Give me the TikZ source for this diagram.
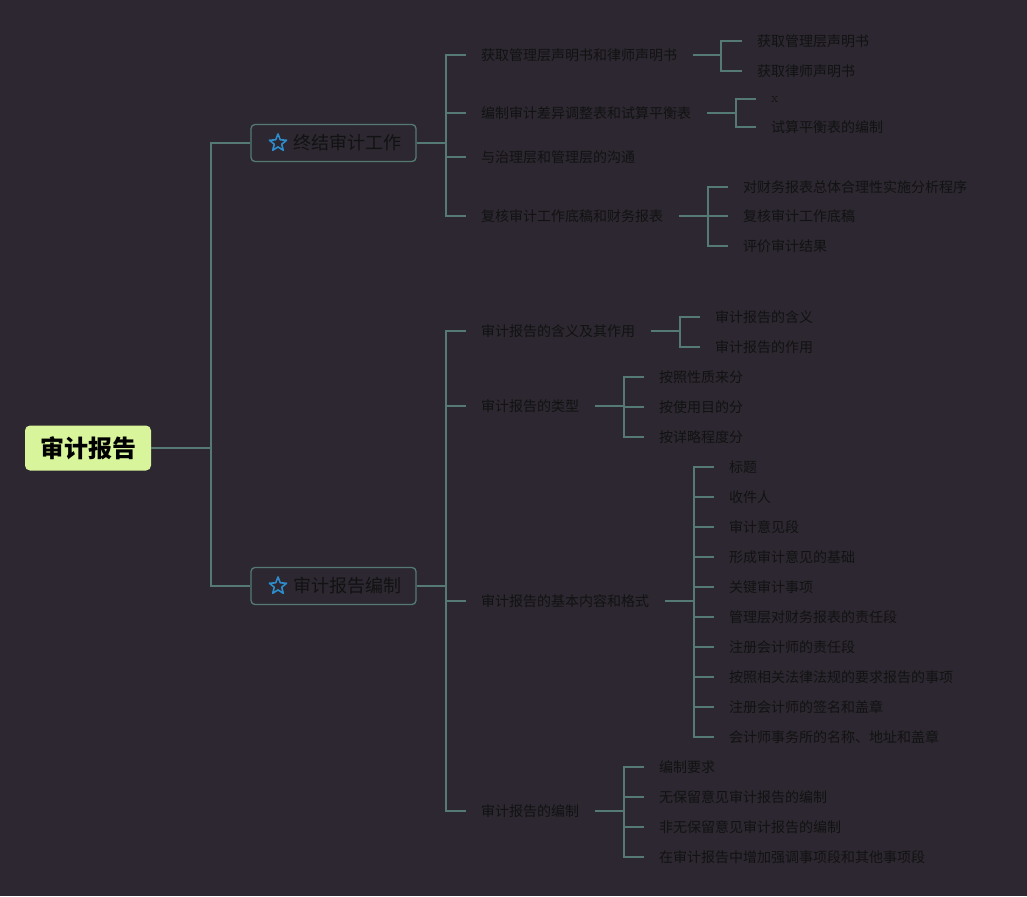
\documentclass[tikz,border=0pt]{standalone}
\usepackage{fontspec}
\newfontfamily\cjk{Noto Sans CJK SC}
\usetikzlibrary{shapes.geometric}
\definecolor{bgdark}{HTML}{2C2730}
\definecolor{linkcol}{HTML}{557A76}
\definecolor{rootgreen}{HTML}{D8F59B}
\definecolor{starblue}{HTML}{2D8CCB}
\definecolor{txt}{HTML}{121212}

\begin{document}
\begin{tikzpicture}[
  x=1pt, y=-1pt,
  link/.style={draw=linkcol, line width=1.3pt},
  root/.style={fill=rootgreen, rounded corners=5pt, minimum width=126pt, minimum height=45pt, text=black, font=\cjk\bfseries\fontsize{24}{24}\selectfont},
  topic/.style={draw=linkcol, line width=1.3pt, rounded corners=4pt, minimum width=165pt, minimum height=37pt},
  topiclabel/.style={anchor=west, inner sep=0pt, text=txt, font=\cjk\fontsize{18}{18}\selectfont},
  staricon/.style={star, star points=5, star point ratio=2.3, draw=starblue, line width=1.6pt, line join=round, minimum size=18pt, inner sep=0pt},
  sub/.style={anchor=west, inner sep=0pt, text=txt, font=\cjk\fontsize{14}{14}\selectfont}
]
  \fill[bgdark] (0,0) rectangle (1027,896);

  % root and the two main topics
  \node[root] (root) at (88,448) {审计报告};
  \node[topic] (t1) at (333.5,143) {};
  \node[staricon] (t1s) at (278,143) {};
  \node[topiclabel] (t1l) at (293,143) {终结审计工作};
  \node[topic] (t2) at (333.5,586) {};
  \node[staricon] (t2s) at (278,586) {};
  \node[topiclabel] (t2l) at (293,586) {审计报告编制};

  \coordinate (j0) at (211,448);
  \draw[link] (root.east) -- (j0);
  \draw[link] (j0) |- (t1.west);
  \draw[link] (j0) |- (t2.west);

  % 终结审计工作
  \foreach \i/\y/\txt in {1/55/获取管理层声明书和律师声明书, 2/113/编制审计差异调整表和试算平衡表,
                          3/157/与治理层和管理层的沟通, 4/216/复核审计工作底稿和财务报表} {
    \node[sub] (a\i) at (481,\y) {\txt};
    \draw[link] (t1.east) -- (446,143) |- ([xshift=-15pt]a\i.west);
  }
  \foreach \i/\y/\txt in {1/41/获取管理层声明书, 2/71/获取律师声明书} {
    \node[sub] (a1\i) at (757,\y) {\txt};
    \draw[link] ([xshift=16pt]a1.east) -- (721,55) |- ([xshift=-15pt]a1\i.west);
  }
  \node[sub, font=\fontsize{14}{14}\selectfont] (a21) at (771,99) {x};
  \node[sub] (a22) at (771,127) {试算平衡表的编制};
  \foreach \i in {1,2} {
    \draw[link] ([xshift=16pt]a2.east) -- (736,113) |- (756,0 |- a2\i.west);
  }
  \foreach \i/\y/\txt in {1/187/对财务报表总体合理性实施分析程序, 2/216/复核审计工作底稿, 3/246/评价审计结果} {
    \node[sub] (a4\i) at (743,\y) {\txt};
    \draw[link] ([xshift=16pt]a4.east) -- (708,216) |- ([xshift=-15pt]a4\i.west);
  }

  % 审计报告编制
  \foreach \i/\y/\txt in {1/331/审计报告的含义及其作用, 2/406/审计报告的类型,
                          3/601/审计报告的基本内容和格式, 4/811/审计报告的编制} {
    \node[sub] (b\i) at (481,\y) {\txt};
    \draw[link] (t2.east) -- (446,586) |- ([xshift=-15pt]b\i.west);
  }
  \foreach \i/\y/\txt in {1/317/审计报告的含义, 2/347/审计报告的作用} {
    \node[sub] (b1\i) at (715,\y) {\txt};
    \draw[link] ([xshift=16pt]b1.east) -- (680,331) |- ([xshift=-15pt]b1\i.west);
  }
  \foreach \i/\y/\txt in {1/377/按照性质来分, 2/407/按使用目的分, 3/437/按详略程度分} {
    \node[sub] (b2\i) at (659,\y) {\txt};
    \draw[link] ([xshift=16pt]b2.east) -- (624,406) |- ([xshift=-15pt]b2\i.west);
  }
  \foreach \i/\txt [evaluate=\i as \y using 437+30*\i] in {1/标题, 2/收件人, 3/审计意见段, 4/形成审计意见的基础, 5/关键审计事项,
      6/管理层对财务报表的责任段, 7/注册会计师的责任段, 8/按照相关法律法规的要求报告的事项,
      9/注册会计师的签名和盖章, 10/会计师事务所的名称、地址和盖章} {
    \node[sub] (b3\i) at (729,\y) {\txt};
    \draw[link] ([xshift=16pt]b3.east) -- (694,601) |- ([xshift=-15pt]b3\i.west);
  }
  \foreach \i/\txt [evaluate=\i as \y using 737+30*\i] in {1/编制要求, 2/无保留意见审计报告的编制,
      3/非无保留意见审计报告的编制, 4/在审计报告中增加强调事项段和其他事项段} {
    \node[sub] (b4\i) at (659,\y) {\txt};
    \draw[link] ([xshift=16pt]b4.east) -- (624,811) |- ([xshift=-15pt]b4\i.west);
  }
\end{tikzpicture}
\end{document}
